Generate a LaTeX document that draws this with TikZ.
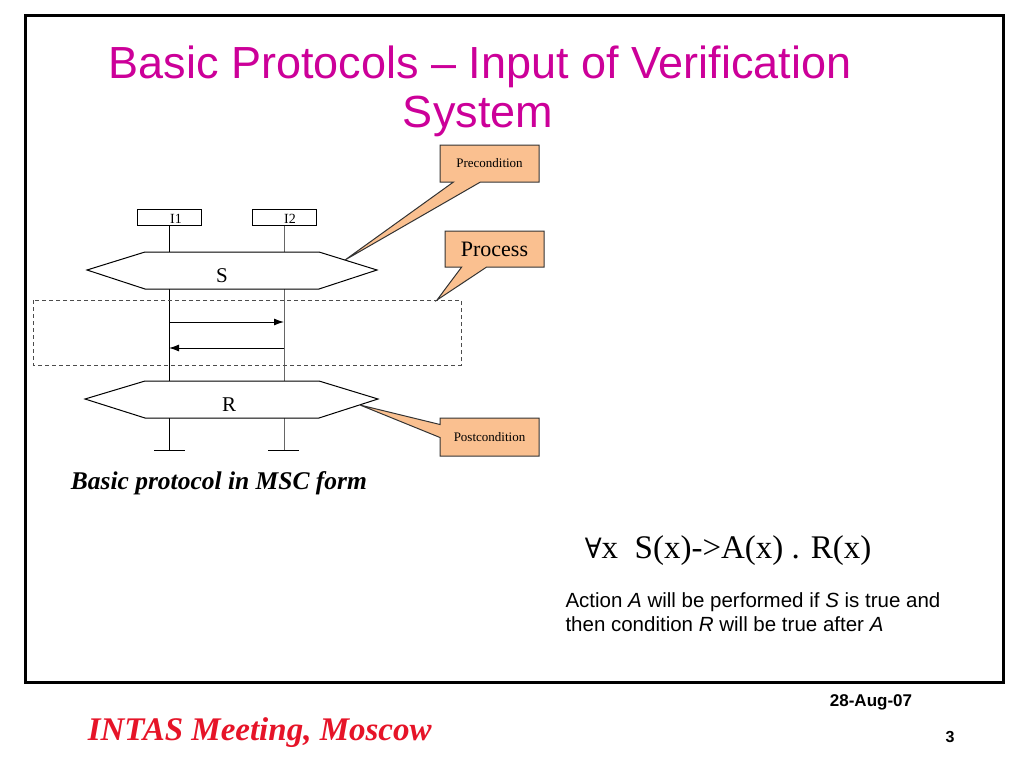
\documentclass[tikz,border=0pt]{standalone}
\usepackage{fontspec}
\setmainfont{Liberation Serif}
\newfontfamily\arialfont{Liberation Sans}
\newfontfamily\symbfont{DejaVu Serif}
\usetikzlibrary{shapes.callouts,arrows.meta}
\definecolor{titlemagenta}{RGB}{204,0,153}
\definecolor{peach}{RGB}{250,192,144}
\definecolor{footred}{RGB}{230,20,40}
\begin{document}
\begin{tikzpicture}[x=1pt, y=-1pt, line width=1pt, >={Latex[length=10pt,width=7pt]},
    inst/.style={draw, minimum width=64pt, minimum height=16pt, inner sep=0pt},
    note/.style={rectangle callout, draw=black!80, fill=peach, minimum width=99pt, minimum height=37pt, inner sep=0pt},
    hexa/.style={draw, fill=white}]
  \useasboundingbox (0,0) rectangle (1024,768);
  \draw[line width=3pt] (25,16) rectangle (1003,682);
  % title
  \node[anchor=base, titlemagenta, font=\arialfont\fontsize{45}{50}\selectfont] (title1) at (480,78) {Basic Protocols – Input of Verification};
  \node[anchor=base, titlemagenta, font=\arialfont\fontsize{45}{50}\selectfont] (title2) at (478,127) {System};
  % instances
  \node[inst] (i1) at (169,217) {};
  \node[inst] (i2) at (284,217) {};
  \node[font=\fontsize{14}{14}\selectfont] (i1t) at (176,219) {I1};
  \node[font=\fontsize{14}{14}\selectfont] (i2t) at (290,219) {I2};
  \coordinate (end1) at (169,450);
  \coordinate (end2) at (284,450);
  \draw (i1.south) -- (end1);
  \draw[black!60] (i2.south) -- (end2);
  \draw ([xshift=-15pt]end1) -- ([xshift=16pt]end1);
  \draw ([xshift=-16pt]end2) -- ([xshift=15pt]end2);
  % conditions
  \draw[hexa] (87,270) -- (145,252) -- (319,252) -- (377,270) -- (319,289) -- (145,289) -- cycle;
  \node[font=\fontsize{21}{21}\selectfont] (S) at (222,276) {S};
  \draw[hexa] (85,399) -- (145,381) -- (319,381) -- (378,399) -- (319,418) -- (145,418) -- cycle;
  \node[font=\fontsize{21}{21}\selectfont] (R) at (229,405) {R};
  \coordinate (Stip) at (345,260);
  \coordinate (Rtip) at (360,405);
  % messages
  \draw[->] (169,322) -- (284,322);
  \draw[->] (284,348) -- (169,348);
  \draw[dash pattern=on 4pt off 3pt, black!70] (33,300) rectangle (461,365);
  \coordinate (Ptip) at (437,300);
  % notes
  \node[note, callout absolute pointer={(Stip)}, callout pointer width=27pt, font=\fontsize{13}{13}\selectfont] (pre) at (489.5,163.5) {Precondition};
  \node[note, callout absolute pointer={(Ptip)}, callout pointer width=25pt, minimum height=36pt, font=\fontsize{22}{22}\selectfont] (proc) at (494.5,249) {Process};
  \node[note, callout absolute pointer={(Rtip)}, callout pointer width=13pt, minimum height=38pt, font=\fontsize{13}{13}\selectfont] (post) at (489.5,437) {Postcondition};
  % texts
  \node[anchor=base west, font=\bfseries\itshape\fontsize{25.5}{25.5}\selectfont] (cap) at (67,489) {Basic protocol in MSC form};
  \node[anchor=base west, font=\fontsize{33}{33}\selectfont] (formula) at (581,558) {{\symbfont\fontsize{28}{28}\selectfont ∀}x\ \ S(x)->A(x) . R(x)};
  \node[anchor=base west, align=left, inner sep=0pt, font=\arialfont\fontsize{20.5}{24}\selectfont] (desc) at (565,631)
    {Action \textit{A} will be performed if \textit{S} is true and\\then condition \textit{R} will be true after \textit{A}};
  % footer
  \node[anchor=base, font=\arialfont\bfseries\fontsize{17}{17}\selectfont] (date) at (871,706) {28-Aug-07};
  \node[anchor=base west, footred, font=\bfseries\itshape\fontsize{33}{33}\selectfont] (meet) at (84,740) {INTAS Meeting, Moscow};
  \node[anchor=base, font=\arialfont\bfseries\fontsize{16}{16}\selectfont] (page) at (950,742) {3};
\end{tikzpicture}
\end{document}
